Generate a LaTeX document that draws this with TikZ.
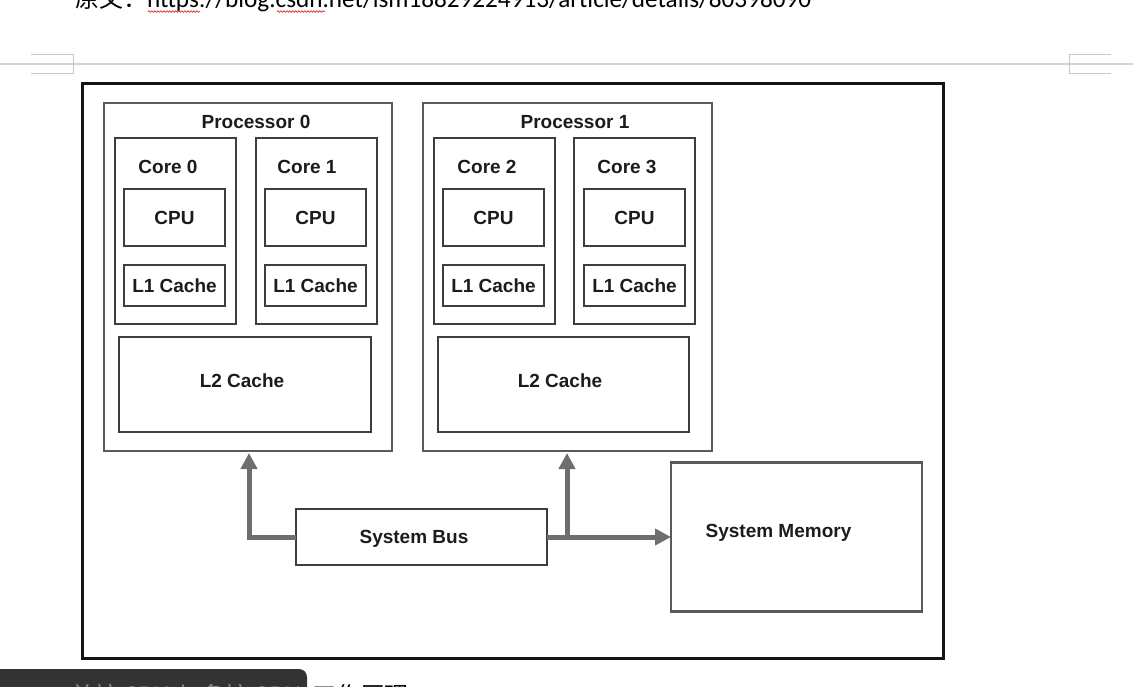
\documentclass[tikz,border=0pt]{standalone}
\usepackage{fontspec}
\setmainfont{Carlito}
\newfontfamily\cjk{Noto Sans CJK SC}
\newfontfamily\diag{Liberation Sans}
\usetikzlibrary{arrows.meta,decorations.pathmorphing}
\definecolor{framecol}{HTML}{151515}
\definecolor{proccol}{HTML}{5A5A5A}
\definecolor{innercol}{HTML}{3E3E3E}
\definecolor{arrcol}{HTML}{6E6E6E}
\definecolor{txtcol}{HTML}{1C1C1C}
\definecolor{hdrcol}{HTML}{C8C8C8}
\definecolor{tipbox}{HTML}{333333}
\definecolor{tiptxt}{HTML}{8A8A8A}
\definecolor{wavecol}{HTML}{E03030}
\newcommand\diaglabel{\diag\bfseries\fontsize{19}{22}\selectfont}
\begin{document}
\begin{tikzpicture}[x=1pt,y=-1pt,
  every node/.style={inner sep=0pt, outer sep=0pt},
  outerframe/.style={draw=framecol, line width=3pt},
  procbox/.style={draw=proccol, line width=2pt},
  corebox/.style={draw=innercol, line width=2pt},
  unitbox/.style={draw=innercol, line width=2pt, font=\diaglabel, text=txtcol, text height=13.6pt, text depth=0pt},
  lbl/.style={font=\diaglabel, text=txtcol, text height=13.6pt, text depth=0pt},
  conn/.style={draw=arrcol, line width=5pt, -{Triangle[length=16pt,width=16pt]}},
  hdr/.style={draw=hdrcol, line width=1pt},
  wave/.style={draw=wavecol, line width=0.7pt, decorate, decoration={snake, amplitude=0.8pt, segment length=3pt}}
]
\useasboundingbox (0,0) rectangle (1133,686);
\clip (0,0) rectangle (1133,686);
\fill[white] (0,0) rectangle (1133,686);

% document text and header
\node[anchor=base west, font=\fontsize{25.2}{28}\selectfont] (src) at (75,7) {{\cjk\fontsize{24}{28}\selectfont 原文：}https://blog.csdn.net/lsm18829224913/article/details/80398090};
\draw[wave] (148,11.5) -- (200,11.5);
\draw[wave] (277,11.5) -- (325,11.5);
\draw[hdr, draw=hdrcol!80, line width=1.5pt] (0,64) -- (1133,64);
\draw[hdr] (31,54) -- (73,54) -- (73,73) -- (31,73);
\draw[hdr] (1111,54) -- (1069,54) -- (1069,73) -- (1111,73);

% diagram
\node[outerframe, minimum width=861pt, minimum height=575pt] (frame) at (512.5,370.5) {};

\node[procbox, minimum width=288pt, minimum height=348pt] (proc0) at (248,277) {};
\node[procbox, minimum width=289pt, minimum height=348pt] (proc1) at (567.5,277) {};
\node[lbl] (proc0lbl) at (256,122) {Processor 0};
\node[lbl] (proc1lbl) at (575,122) {Processor 1};

\node[corebox, minimum width=121pt, minimum height=186pt] (core0) at (175.5,231) {};
\node[corebox, minimum width=121pt, minimum height=186pt] (core1) at (316.5,231) {};
\node[corebox, minimum width=121pt, minimum height=186pt] (core2) at (494.5,231) {};
\node[corebox, minimum width=121pt, minimum height=186pt] (core3) at (634.5,231) {};
\node[lbl] (core0lbl) at (168,167) {Core 0};
\node[lbl] (core1lbl) at (307,167) {Core 1};
\node[lbl] (core2lbl) at (487,167) {Core 2};
\node[lbl] (core3lbl) at (627,167) {Core 3};

\node[unitbox, minimum width=101pt, minimum height=57pt] (cpu0) at (174.5,217.5) {CPU};
\node[unitbox, minimum width=101pt, minimum height=57pt] (cpu1) at (315.5,217.5) {CPU};
\node[unitbox, minimum width=101pt, minimum height=57pt] (cpu2) at (493.5,217.5) {CPU};
\node[unitbox, minimum width=101pt, minimum height=57pt] (cpu3) at (634.5,217.5) {CPU};

\node[unitbox, minimum width=101pt, minimum height=41pt] (lone0) at (174.5,285.5) {L1 Cache};
\node[unitbox, minimum width=101pt, minimum height=41pt] (lone1) at (315.5,285.5) {L1 Cache};
\node[unitbox, minimum width=101pt, minimum height=41pt] (lone2) at (493.5,285.5) {L1 Cache};
\node[unitbox, minimum width=101pt, minimum height=41pt] (lone3) at (634.5,285.5) {L1 Cache};

\node[corebox, minimum width=252pt, minimum height=95pt] (ltwo0) at (245,384.5) {};
\node[corebox, minimum width=251pt, minimum height=95pt] (ltwo1) at (563.5,384.5) {};
\node[lbl] (ltwo0lbl) at (242,381) {L2 Cache};
\node[lbl] (ltwo1lbl) at (560,381) {L2 Cache};

\node[corebox, minimum width=251pt, minimum height=56pt] (bus) at (421.5,537) {};
\node[lbl] (buslbl) at (414,536.5) {System Bus};

\node[procbox, line width=2.5pt, minimum width=251pt, minimum height=149pt] (mem) at (796.5,537) {};
\node[lbl] (memlbl) at (778.5,531) {System Memory};

\coordinate (tip0) at (249,453);
\coordinate (tip1) at (567,453);
\coordinate (busj) at (567,537);
\draw[conn] (busj) -- (tip1);
\draw[conn] (bus.west) -| (tip0);
\draw[conn] (bus.east) -- (mem.west);

% overlay at bottom
\node[anchor=base west, text=black, font=\cjk\fontsize{24}{28}\selectfont] (capb) at (312,704) {工作原理};
\node[fill=tipbox, rounded corners=8pt, minimum width=317pt, minimum height=40pt, anchor=north west] (tip) at (-10,669) {};
\node[anchor=base west, text=tiptxt, font=\cjk\fontsize{24}{28}\selectfont] (capa) at (70,704) {单核 CPU 与多核 CPU};
\end{tikzpicture}
\end{document}
